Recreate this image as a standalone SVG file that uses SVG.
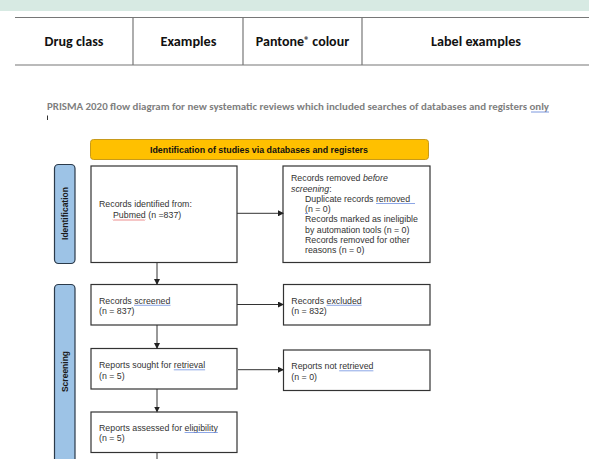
<svg xmlns="http://www.w3.org/2000/svg" width="589" height="459" viewBox="0 0 589 459">
<defs>
<style>
.hdr{font-family:Carlito,Lato,"Open Sans",sans-serif;font-weight:bold;font-size:14px;fill:#111;text-anchor:middle}
.tl{stroke:#777;stroke-width:1.2;fill:none}
.box{fill:#fff;stroke:#333;stroke-width:1.2}
.t{font-family:"Liberation Sans",Arial,sans-serif;font-size:8.8px;fill:#333}
.side{fill:#9dc3e6;stroke:#2b3a4a;stroke-width:1.2}
.st{font-family:"Liberation Sans",Arial,sans-serif;font-size:8.5px;font-weight:bold;fill:#1a1a1a;text-anchor:middle}
.con{stroke:#333;stroke-width:1;fill:none}
.sp{stroke:#6f8fe0;stroke-width:0.8;fill:none}
</style>
<marker id="ah" markerWidth="6" markerHeight="6" refX="5" refY="3" orient="auto" markerUnits="userSpaceOnUse">
<path d="M0,0 L6,3 L0,6 z" fill="#222"/>
</marker>
</defs>
<rect width="589" height="459" fill="#fff"/>
<rect x="0" y="0" width="589" height="11" fill="#d7eae3"/>
<g id="table">
<line class="tl" x1="15" y1="17.5" x2="589" y2="17.5"/>
<line class="tl" x1="15" y1="65" x2="589" y2="65"/>
<line class="tl" x1="133" y1="17.5" x2="133" y2="65"/>
<line class="tl" x1="243" y1="17.5" x2="243" y2="65"/>
<line class="tl" x1="362" y1="17.5" x2="362" y2="65"/>
<text class="hdr" x="74" y="46" textLength="59" lengthAdjust="spacingAndGlyphs">Drug class</text>
<text class="hdr" x="188.5" y="46" textLength="56" lengthAdjust="spacingAndGlyphs">Examples</text>
<text class="hdr" x="302.5" y="46">Pantone<tspan font-size="10px" dy="-3.5">®</tspan><tspan dy="3.5"> colour</tspan></text>
<text class="hdr" x="476" y="46" textLength="90" lengthAdjust="spacingAndGlyphs">Label examples</text>
</g>
<g id="title">
<text x="47" y="110" font-family="Carlito,Lato,'Open Sans',sans-serif" font-weight="bold" font-size="10px" fill="#7f7f7f" textLength="502" lengthAdjust="spacingAndGlyphs">PRISMA 2020 flow diagram for new systematic reviews which included searches of databases and registers only</text>
<line x1="531" y1="112" x2="549" y2="112" stroke="#5b7fd6" stroke-width="0.8"/>
<line x1="47.5" y1="115.5" x2="47.5" y2="120" stroke="#333" stroke-width="1"/>
</g>
<g id="header-identification">
<rect x="90.5" y="139.5" width="338" height="20" rx="3" fill="#ffc000" stroke="#c89a1a" stroke-width="1"/>
<text x="259" y="152.5" font-family="'Liberation Sans',Arial,sans-serif" font-weight="bold" font-size="8.5px" fill="#111" text-anchor="middle" textLength="218" lengthAdjust="spacingAndGlyphs">Identification of studies via databases and registers</text>
</g>
<g id="side-identification">
<rect class="side" x="54.5" y="164.5" width="20.5" height="99" rx="4"/>
<text class="st" transform="translate(67.5,213.5) rotate(-90)">Identification</text>
</g>
<g id="side-screening">
<rect class="side" x="54.5" y="284.5" width="20.5" height="190" rx="4"/>
<text class="st" transform="translate(67.5,371.5) rotate(-90)">Screening</text>
</g>
<g id="records-identified">
<rect class="box" x="91" y="166" width="146" height="96.5"/>
<text class="t" x="99" y="207">Records identified from:</text>
<text class="t" x="113" y="217.5">Pubmed (n =837)</text>
<path d="M113,219.5 l1,1 l1,-1 l1,1 l1,-1 l1,1 l1,-1 l1,1 l1,-1 l1,1 l1,-1 l1,1 l1,-1 l1,1 l1,-1 l1,1 l1,-1 l1,1 l1,-1 l1,1 l1,-1 l1,1 l1,-1 l1,1 l1,-1 l1,1 l1,-1 l1,1 l1,-1 l1,1 l1,-1 l1,1 l1,-1" stroke="#d33" stroke-width="0.6" fill="none"/>
</g>
<g id="records-removed">
<rect class="box" x="283" y="166" width="147" height="96.5"/>
<text class="t" x="291" y="181.3">Records removed <tspan font-style="italic">before</tspan></text>
<text class="t" x="291" y="191.5"><tspan font-style="italic">screening</tspan>:</text>
<text class="t" x="305" y="201.8">Duplicate records removed</text>
<text class="t" x="305" y="212">(n = 0)</text>
<text class="t" x="305" y="222.3">Records marked as ineligible</text>
<text class="t" x="305" y="232.5">by automation tools (n = 0)</text>
<text class="t" x="305" y="242.7">Records removed for other</text>
<text class="t" x="305" y="253">reasons (n = 0)</text>
<line class="sp" x1="376" y1="203.5" x2="415" y2="203.5"/>
<line class="sp" x1="305" y1="213.5" x2="307" y2="213.5"/>
</g>
<g id="records-screened">
<rect class="box" x="91" y="284.5" width="146" height="40.5"/>
<text class="t" x="99" y="303.5">Records screened</text>
<text class="t" x="99" y="314">(n = 837)</text>
<line class="sp" x1="134" y1="305.3" x2="170.5" y2="305.3"/>
</g>
<g id="records-excluded">
<rect class="box" x="283.5" y="284.5" width="146.5" height="40.5"/>
<text class="t" x="291.3" y="303.5">Records excluded</text>
<text class="t" x="291.3" y="314">(n = 832)</text>
<line class="sp" x1="326.5" y1="305.3" x2="361.7" y2="305.3"/>
</g>
<g id="reports-sought">
<rect class="box" x="91" y="348.5" width="146" height="40.5"/>
<text class="t" x="99" y="368">Reports sought for retrieval</text>
<text class="t" x="99" y="378.5">(n = 5)</text>
<line class="sp" x1="173.8" y1="369.8" x2="205.1" y2="369.8"/>
</g>
<g id="reports-not-retrieved">
<rect class="box" x="283.5" y="350" width="146.5" height="40.5"/>
<text class="t" x="291.3" y="369">Reports not retrieved</text>
<text class="t" x="291.3" y="379.5">(n = 0)</text>
<line class="sp" x1="339.2" y1="370.8" x2="373.4" y2="370.8"/>
</g>
<g id="reports-assessed">
<rect class="box" x="91" y="412" width="146" height="40.5"/>
<text class="t" x="99" y="430.7">Reports assessed for eligibility</text>
<text class="t" x="99" y="441">(n = 5)</text>
<line class="sp" x1="184.6" y1="432.5" x2="217.8" y2="432.5"/>
</g>
<g id="connectors">
<line class="con" x1="157" y1="262.5" x2="157" y2="284" marker-end="url(#ah)"/>
<line class="con" x1="157" y1="325" x2="157" y2="348" marker-end="url(#ah)"/>
<line class="con" x1="157" y1="389" x2="157" y2="411.5" marker-end="url(#ah)"/>
<line class="con" x1="157" y1="452.5" x2="157" y2="459"/>
<line class="con" x1="237" y1="213.3" x2="283" y2="213.3" marker-end="url(#ah)"/>
<line class="con" x1="237" y1="304.5" x2="283" y2="304.5" marker-end="url(#ah)"/>
<line class="con" x1="238" y1="369.7" x2="283" y2="369.7" marker-end="url(#ah)"/>
</g>
</svg>
